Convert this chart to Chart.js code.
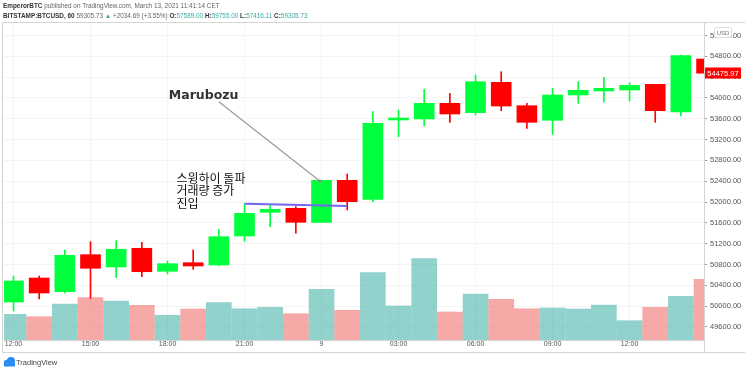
<!DOCTYPE html>
<html lang="en">
<head>
<meta charset="utf-8">
<script src="https://cdn.jsdelivr.net/npm/chart.js@4.4.1/dist/chart.umd.min.js"></script>
<style>
  html, body { margin: 0; padding: 0; background: #fff; }
</style>
</head>
<body>
<canvas id="btcChart" width="745" height="377"></canvas>

<script>
// BTCUSD 1h candles, 12:00 on the 8th through 15:00 on the 9th
const opens  = [50080, 50541, 50278, 50989, 50753, 51112, 50670, 50835, 50791, 51348, 51803, 51880, 51611, 52418,
                52053, 53577, 53596, 53897, 53717, 54300, 53851, 53571, 54057, 54134, 54153, 54262, 53730, 54748];
const highs  = [50580, 50580, 51079, 51239, 51258, 51227, 50868, 51079, 51477, 51963, 51944, 51911, 52424, 52539,
                53736, 53769, 54166, 54089, 54441, 54504, 53897, 54185, 54312, 54397, 54293, 54262, 54825, 54787];
const lows   = [49907, 50138, 50253, 50151, 50547, 50566, 50618, 50708, 50772, 51246, 51527, 51400, 51611, 51848,
                52007, 53256, 53461, 53532, 53672, 53755, 53417, 53302, 53897, 53917, 53941, 53532, 53653, 54422];
const closes = [50484, 50253, 50977, 50728, 51093, 50662, 50816, 50772, 51335, 51784, 51861, 51611, 52418, 52007,
                53513, 53596, 53897, 53692, 54312, 53845, 53532, 54057, 54147, 54185, 54243, 53755, 54812, 54475.97];
const volumes = [257, 233, 360, 423, 390, 347, 247, 310, 373, 313, 327, 263, 507, 297,
                 673, 340, 813, 280, 460, 407, 313, 320, 310, 350, 193, 327, 437, 607];

const timeTickPos = [0, 3, 6, 9, 12, 15, 18, 21, 24];
const timeTickLabels = ['12:00', '15:00', '18:00', '21:00', '9', '03:00', '06:00', '09:00', '12:00'];
const priceTicks = [49600, 50000, 50400, 50800, 51200, 51600, 52000, 52400, 52800, 53200, 53600, 54000, 54400, 54800, 55200];

// drawings on the chart (candle index, price)
const breakoutLine = [{x: 9, y: 51969}, {x: 13, y: 51924}];
const marubozuPointer = [{x: 8.0, y: 53928}, {x: 11.93, y: 52405}];
const marubozuNote = {x: 6.05, y: 54038, text: 'Marubozu'};
const entryNote = {x: 6.35, y: 52457, lines: ['스윙하이 돌파', '거래량 증가', '진입']};

const GREEN = '#00ff3c';
const RED = '#ff0000';
const VOL_UP = 'rgba(38,166,154,0.5)';
const VOL_DOWN = 'rgba(239,83,80,0.5)';
const FONT = "'Liberation Sans', Arial, sans-serif";

const isUp = closes.map((c, i) => c >= opens[i]);

function textRuns(c, x, y, parts) {
    parts.forEach(p => {
        c.font = (p[2] ? 'bold ' : '') + '6.4px ' + FONT;
        c.fillStyle = p[1];
        c.fillText(p[0], x, y);
        x += c.measureText(p[0]).width;
    });
}

const overlay = {
    id: 'overlay',
    afterDraw(chart) {
        const c = chart.ctx;
        const xs = chart.scales.x, ps = chart.scales.price;
        c.save();

        // pane frame
        c.strokeStyle = '#d4d4d4';
        c.lineWidth = 1;
        c.beginPath();
        c.moveTo(2.5, 352.5); c.lineTo(2.5, 22.5); c.lineTo(745, 22.5);
        c.moveTo(2.5, 352.5); c.lineTo(745, 352.5);
        c.moveTo(704.5, 340); c.lineTo(704.5, 352);
        c.stroke();

        // header
        c.textBaseline = 'middle';
        c.textAlign = 'left';
        textRuns(c, 3, 6, [['EmperorBTC', '#333', true], [' published on TradingView.com, March 13, 2021 11:41:14 CET', '#666', false]]);
        const teal = '#3aa99e';
        textRuns(c, 3, 16, [
            ['BITSTAMP:BTCUSD, 60', '#333', true], [' 59305.73 ', '#666', false], ['▲', teal, false],
            [' +2034.69 (+3.55%) ', '#666', false],
            ['O:', '#333', true], ['57589.00', teal, false], [' H:', '#333', true], ['59755.00', teal, false],
            [' L:', '#333', true], ['57416.11', teal, false], [' C:', '#333', true], ['59305.73', teal, false]
        ]);

        // footer logo
        c.fillStyle = '#2a8cf0';
        c.beginPath();
        c.arc(7, 363, 3.2, 0, Math.PI * 2);
        c.arc(11, 361, 4, 0, Math.PI * 2);
        c.fill();
        c.fillRect(4, 363, 11, 3.5);
        c.font = '7.5px ' + FONT;
        c.fillStyle = '#444';
        c.fillText('TradingView', 16, 363);

        // annotations
        c.font = 'bold 12.5px "DejaVu Sans", sans-serif';
        c.fillStyle = '#333';
        c.fillText(marubozuNote.text, xs.getPixelForValue(marubozuNote.x), ps.getPixelForValue(marubozuNote.y));
        c.font = '12px "Noto Sans CJK KR", sans-serif';
        c.fillStyle = '#111';
        const ex = xs.getPixelForValue(entryNote.x), ey = ps.getPixelForValue(entryNote.y);
        entryNote.lines.forEach((t, i) => c.fillText(t, ex, ey + i * 12.5));

        // USD badge
        c.fillStyle = '#fff';
        c.strokeStyle = '#dcdcdc';
        c.beginPath();
        c.roundRect(714.5, 27.5, 17, 10, 2);
        c.fill(); c.stroke();
        c.font = '6px ' + FONT;
        c.fillStyle = '#777';
        c.textAlign = 'center';
        c.fillText('USD', 723, 33);

        // last price label
        const last = closes[closes.length - 1];
        const ly = Math.round(ps.getPixelForValue(last));
        c.fillStyle = RED;
        c.fillRect(705, ly - 5.5, 36, 11);
        c.font = '7.5px ' + FONT;
        c.fillStyle = '#fff';
        c.fillText(last.toFixed(2), 723, ly + 0.5);

        c.restore();
    }
};

const ctx = document.getElementById('btcChart');
const btcChart = new Chart(ctx, {
    type: 'bar',
    data: {
        datasets: [
            {
                type: 'line',
                label: 'breakout',
                data: breakoutLine,
                borderColor: '#7467f0',
                borderWidth: 2,
                pointRadius: 0,
                yAxisID: 'price',
                order: 1
            },
            {
                type: 'line',
                label: 'pointer',
                data: marubozuPointer,
                borderColor: '#9a9a9a',
                borderWidth: 1.2,
                pointRadius: [0, 1.5],
                pointBackgroundColor: '#888',
                pointBorderWidth: 0,
                yAxisID: 'price',
                order: 1
            },
            {
                label: 'body',
                data: opens.map((o, i) => ({x: i, y: [o, closes[i]]})),
                backgroundColor: isUp.map(u => u ? GREEN : RED),
                barThickness: 20,
                minBarLength: 2,
                grouped: false,
                clip: 0,
                yAxisID: 'price',
                order: 2
            },
            {
                label: 'wick',
                data: lows.map((l, i) => ({x: i, y: [l, highs[i]]})),
                backgroundColor: isUp.map(u => u ? GREEN : RED),
                barThickness: 1,
                grouped: false,
                clip: 0,
                yAxisID: 'price',
                order: 3
            },
            {
                label: 'volume',
                data: volumes.map((v, i) => ({x: i, y: v})),
                backgroundColor: isUp.map(u => u ? VOL_UP : VOL_DOWN),
                barThickness: 25,
                grouped: false,
                clip: 0,
                yAxisID: 'vol',
                order: 4
            }
        ]
    },
    options: {
        responsive: false,
        animation: false,
        devicePixelRatio: 1,
        layout: {padding: {top: 23, left: 3, right: 0, bottom: 25}},
        plugins: {legend: {display: false}, tooltip: {enabled: false}},
        scales: {
            x: {
                type: 'linear',
                min: -0.37,
                max: 26.9,
                offset: false,
                grid: {color: '#f4f4f4', drawTicks: false, offset: false},
                border: {color: '#d4d4d4'},
                ticks: {
                    font: {size: 7, family: FONT},
                    color: '#555',
                    padding: 0,
                    maxRotation: 0,
                    autoSkip: false,
                    callback: v => timeTickLabels[timeTickPos.indexOf(v)]
                },
                afterBuildTicks: a => { a.ticks = timeTickPos.map(v => ({value: v})); },
                afterFit: a => { a.height = 12; }
            },
            price: {
                position: 'right',
                min: 49350,
                max: 55440,
                grid: {color: '#f4f4f4', tickLength: 3, tickColor: '#999'},
                border: {color: '#d4d4d4'},
                ticks: {
                    font: {size: 7.5, family: FONT},
                    color: '#555',
                    padding: 3,
                    callback: v => v.toFixed(2)
                },
                afterBuildTicks: a => { a.ticks = priceTicks.map(v => ({value: v})); },
                afterFit: a => { a.width = 41; }
            },
            vol: {
                display: false,
                min: 0,
                max: 3170
            }
        }
    },
    plugins: [overlay]
});
</script>
</body>
</html>
